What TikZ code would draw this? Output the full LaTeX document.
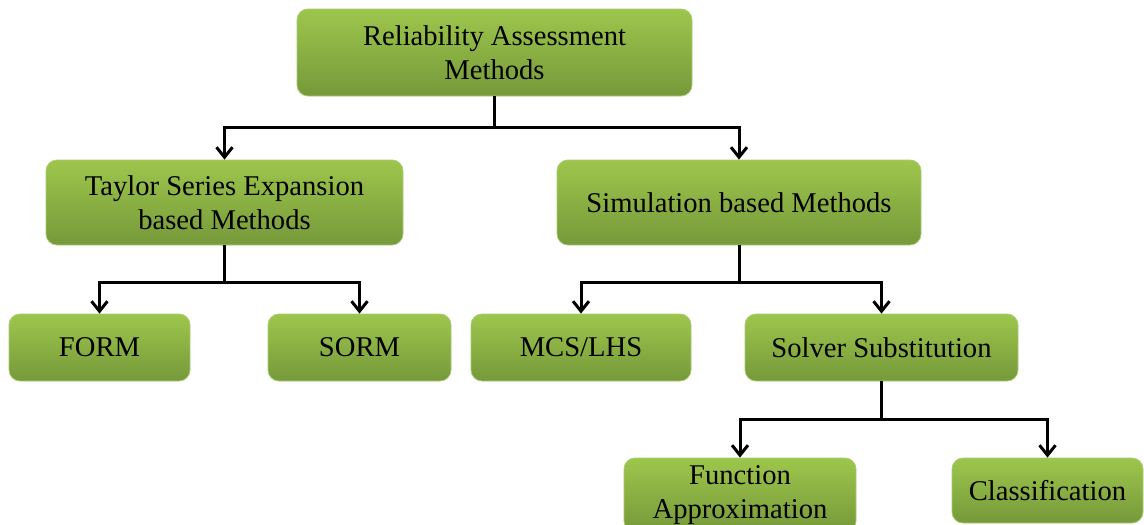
\documentclass[tikz,border=0pt]{standalone}
\usepackage{fontspec}
\setmainfont{Liberation Serif}
\usetikzlibrary{arrows.meta}
\definecolor{boxtop}{HTML}{9DC64C}
\definecolor{boxbot}{HTML}{76993A}
\definecolor{boxedge}{HTML}{A9CB72}
\tikzset{
  box/.style={rectangle, rounded corners=11pt, draw=boxedge, line width=0.8pt,
    top color=boxtop, bottom color=boxbot, align=center, inner sep=0pt,
    font=\fontsize{28.6}{34.5}\selectfont, text=black},
  conn/.style={line width=3pt, -{Straight Barb[length=10pt,width=16pt,line width=3pt]}}
}
\begin{document}
\begin{tikzpicture}[x=1pt,y=-1pt]
\useasboundingbox (0,0) rectangle (1144,525);
\fill[white] (0,0) rectangle (1144,525);

% tree of methods
\node[box, minimum width=395, minimum height=87] (root) at (494.5,52.5) {Reliability Assessment\\Methods};
\node[box, minimum width=357, minimum height=85] (taylor) at (224.5,202.5) {Taylor Series Expansion\\based Methods};
\node[box, minimum width=364, minimum height=85] (sim) at (739,202.5) {Simulation based Methods};
\node[box, minimum width=181, minimum height=67] (form) at (99.5,347.5) {FORM};
\node[box, minimum width=183, minimum height=67] (sorm) at (359.5,347.5) {SORM};
\node[box, minimum width=220, minimum height=67] (mcs) at (581,347.5) {MCS/LHS};
\node[box, minimum width=273, minimum height=67] (solver) at (881.5,347.5) {Solver Substitution};
\node[box, minimum width=232, minimum height=74] (func) at (740,495) {Function\\Approximation};
\node[box, minimum width=191, minimum height=65] (cls) at (1047.5,490.5) {Classification};

% branches
\draw[conn] (root.south) -- ++(0,31) -| (taylor.north);
\draw[conn] (root.south) -- ++(0,31) -| (sim.north);
\draw[conn] (taylor.south) -- ++(0,37) -| (form.north);
\draw[conn] (taylor.south) -- ++(0,37) -| (sorm.north);
\draw[conn] (sim.south) -- ++(0,37) -| (mcs.north);
\draw[conn] (sim.south) -- ++(0,37) -| (solver.north);
\draw[conn] (solver.south) -- ++(0,38) -| (func.north);
\draw[conn] (solver.south) -- ++(0,38) -| (cls.north);
\end{tikzpicture}
\end{document}
